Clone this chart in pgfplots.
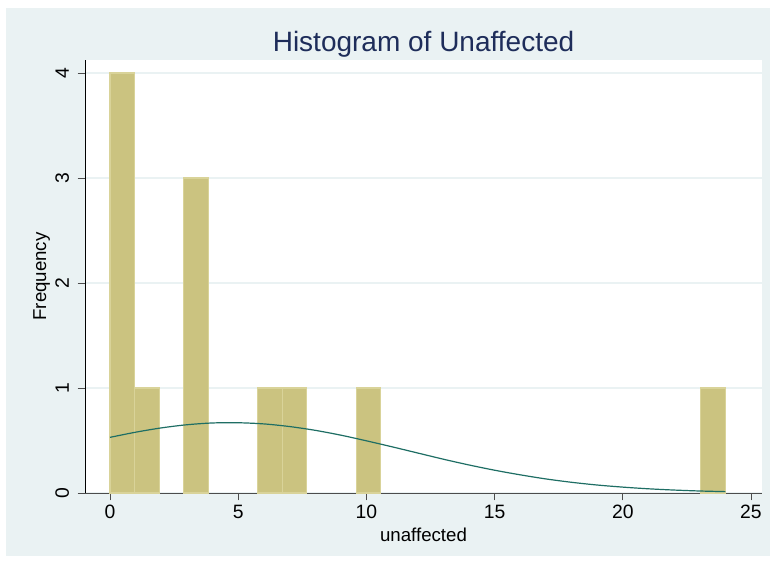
\documentclass[border=0pt]{standalone}
\usepackage{pgfplots}
\pgfplotsset{compat=1.18}
\usepackage{fontspec}
\setmainfont{Liberation Sans}
\definecolor{bgc}{RGB}{234,242,243}
\definecolor{barfill}{RGB}{203,195,128}
\definecolor{baredge}{RGB}{217,211,153}
\definecolor{curve}{RGB}{30,110,100}
\definecolor{titlec}{RGB}{30,45,90}
\begin{document}
\begin{tikzpicture}[x=1pt,y=1pt]
\fill[white] (0,0) rectangle (579,423);
\fill[bgc] (4.5,6) rectangle (577.5,417);
\begin{axis}[
  scale only axis,
  width=507.75pt, height=324.75pt,
  anchor=south west, at={(63.75pt,53.25pt)},
  xmin=-0.975, xmax=25.43, ymin=0, ymax=4.124,
  axis x line*=bottom, axis y line*=left,
  x axis line style={-, black!70, line width=0.6pt},
  y axis line style={-, black, line width=0.6pt},
  axis background/.style={fill=white},
  xtick={0,5,10,15,20,25}, ytick={0,1,2,3,4},
  tick align=outside, tick pos=left,
  major tick length=5.5pt,
  tick style={black!70, line width=0.6pt},
  ymajorgrids, grid style={bgc, line width=0.8pt},
  yticklabel style={rotate=90, anchor=south},
  yticklabel shift=3pt,
  /pgf/number format/assume math mode=true,
  ticklabel style={font=\fontsize{14.5}{16}\selectfont},
  label style={font=\fontsize{14}{16}\selectfont},
  xlabel={unaffected}, ylabel={Frequency},
  xlabel style={yshift=0pt},
  ylabel style={yshift=-3pt},
  title={Histogram of Unaffected},
  title style={font=\fontsize{21}{24}\selectfont, text=titlec, yshift=-7.5pt},
  clip=false,
]
\addplot[ybar, bar width=0.96, bar shift=0pt, fill=barfill, draw=baredge, line width=0.8pt]
  coordinates {(0.48,4) (1.44,1) (3.36,3) (6.24,1) (7.2,1) (10.08,1) (23.52,1)};
\addplot[curve, line width=0.9pt, smooth] coordinates {
(0,0.530) (1,0.579) (2,0.620) (3,0.650) (4,0.667) (5,0.669) (6,0.658) (7,0.633)
(8,0.597) (9,0.551) (10,0.497) (11,0.440) (12,0.381) (13,0.322) (14,0.267)
(15,0.217) (16,0.173) (17,0.134) (18,0.102) (19,0.076) (20,0.056) (21,0.040)
(22,0.028) (23,0.019) (24,0.013)};
\end{axis}
\end{tikzpicture}
\end{document}
